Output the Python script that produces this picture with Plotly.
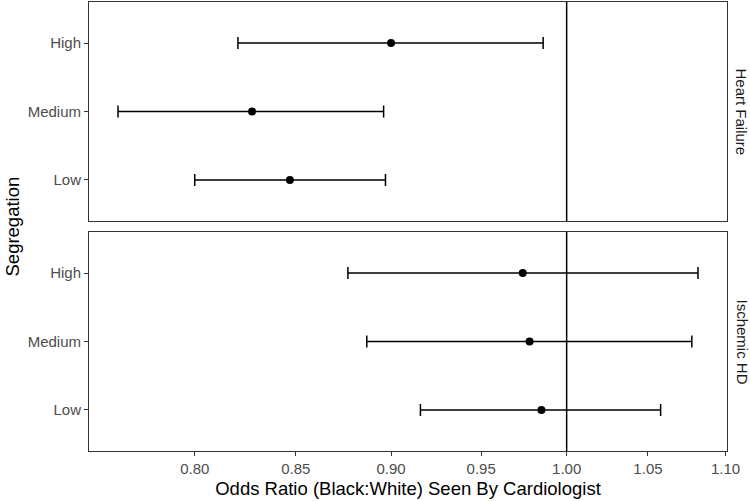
import numpy as np
import plotly.graph_objects as go
from plotly.subplots import make_subplots

levels = ["Low", "Medium", "High"]
panels = ["Heart Failure", "Ischemic HD"]

hf_or = [0.847, 0.828, 0.900]
hf_lo = [0.800, 0.764, 0.821]
hf_hi = [0.897, 0.896, 0.986]

ihd_or = [0.985, 0.978, 0.974]
ihd_lo = [0.916, 0.887, 0.877]
ihd_hi = [1.058, 1.078, 1.082]

x_ticks = [0.80, 0.85, 0.90, 0.95, 1.00, 1.05, 1.10]
x_title = "Odds Ratio (Black:White) Seen By Cardiologist"
y_title = "Segregation"

FONT = "Liberation Sans, Arial, Helvetica, sans-serif"
BORDER = "#333333"

fig = make_subplots(rows=2, cols=1, shared_xaxes=True, vertical_spacing=0.0245)

ypos = [1, 2, 3]
data = [(hf_or, hf_lo, hf_hi), (ihd_or, ihd_lo, ihd_hi)]
for i, (o, lo, hi) in enumerate(data):
    o = np.array(o); lo = np.array(lo); hi = np.array(hi)
    # reference line at OR = 1
    fig.add_trace(go.Scatter(x=[1, 1], y=[0.4, 3.6], mode="lines",
                             line=dict(color="black", width=1.5),
                             showlegend=False, hoverinfo="skip"), row=i + 1, col=1)
    fig.add_trace(go.Scatter(
        x=o, y=ypos, mode="markers",
        marker=dict(color="black", size=8),
        error_x=dict(type="data", symmetric=False, array=hi - o, arrayminus=o - lo,
                     color="black", thickness=1.5, width=6),
        showlegend=False), row=i + 1, col=1)

all_lo = min(hf_lo + ihd_lo)
all_hi = max(hf_hi + ihd_hi)
l0, l1 = np.log10(all_lo), np.log10(all_hi)
pad = 0.05 * (l1 - l0)
xr = [l0 - pad, l1 + pad]

for r in (1, 2):
    fig.update_xaxes(type="log", range=xr, tickvals=x_ticks,
                     ticktext=[f"{v:.2f}" for v in x_ticks],
                     showline=True, mirror=True, linecolor=BORDER, linewidth=1,
                     ticks="outside", ticklen=4, tickcolor=BORDER,
                     showgrid=False, zeroline=False,
                     tickfont=dict(family=FONT, size=15, color="#4d4d4d"),
                     row=r, col=1)
    fig.update_yaxes(range=[0.4, 3.6], tickvals=ypos, ticktext=levels,
                     showline=True, mirror=True, linecolor=BORDER, linewidth=1,
                     ticks="outside", ticklen=4, tickcolor=BORDER,
                     showgrid=False, zeroline=False,
                     tickfont=dict(family=FONT, size=15, color="#4d4d4d"),
                     row=r, col=1)
fig.update_xaxes(showticklabels=False, ticks="", row=1, col=1)
fig.update_xaxes(title=dict(text=x_title, font=dict(family=FONT, size=18.5, color="black"),
                            standoff=6), row=2, col=1)

for i, name in enumerate(panels):
    yref = "y domain" if i == 0 else "y2 domain"
    fig.add_annotation(text=name, xref="paper", yref=yref, x=1, y=0.5,
                       xanchor="center", yanchor="middle", xshift=15, textangle=90,
                       showarrow=False, font=dict(family=FONT, size=15, color="#1a1a1a"))

fig.add_annotation(text=y_title, xref="paper", yref="paper", x=0, y=0.5,
                   xanchor="center", yanchor="middle", xshift=-77, textangle=-90,
                   showarrow=False, font=dict(family=FONT, size=18.5, color="black"))

fig.update_layout(width=750, height=501, margin=dict(l=89, r=23, t=2, b=50),
                  plot_bgcolor="white", paper_bgcolor="white",
                  font=dict(family=FONT))
fig.write_html("out.html")
